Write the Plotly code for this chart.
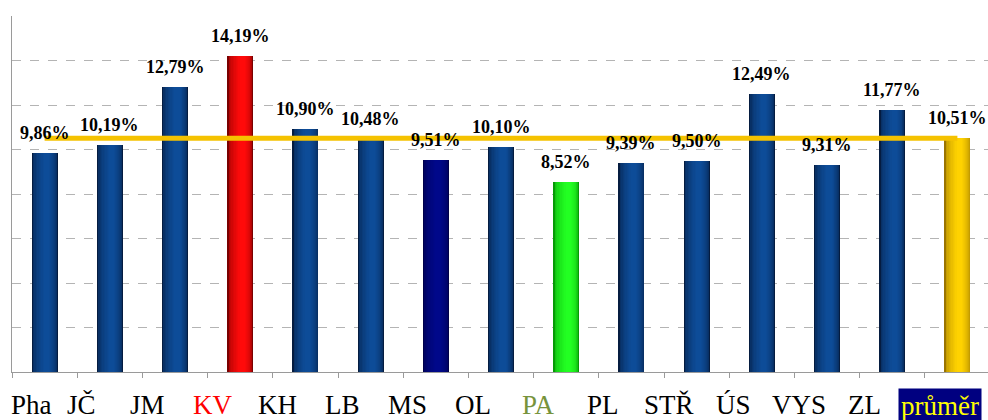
import plotly.graph_objects as go

# Regional shares (%) and the national average
regions = ["Pha", "JČ", "JM", "KV", "KH", "LB", "MS", "OL", "PA", "PL",
           "STŘ", "ÚS", "VYS", "ZL", "průměr"]
share = [9.86, 10.19, 12.79, 14.19, 10.90, 10.48, 9.51, 10.10, 8.52, 9.39,
         9.50, 12.49, 9.31, 11.77, 10.51]
average = 10.51

# Bar colour family per region
bar_style = ["blue", "blue", "blue", "red", "blue", "blue", "navy", "blue",
             "green", "blue", "blue", "blue", "blue", "blue", "gold"]
label_style = ["black", "black", "black", "red", "black", "black", "black",
               "black", "olive", "black", "black", "black", "black", "black",
               "avg"]

# (edge colour, highlight colour) for the cylinder-like shading
palette = {
    "blue": ("#051c40", "#0d4c98"),
    "red": ("#7a0000", "#ff0a0a"),
    "navy": ("#00004a", "#00088a"),
    "green": ("#059a05", "#22ff22"),
    "gold": ("#9a7400", "#ffd200"),
}
label_colors = {"black": "#000000", "red": "#ff0000", "olive": "#77933c",
                "avg": "#ffff00"}

SERIF = "Times New Roman"


def hex_to_rgb(h):
    h = h.lstrip("#")
    return tuple(int(h[i:i + 2], 16) for i in (0, 2, 4))


def mix(c1, c2, t):
    a, b = hex_to_rgb(c1), hex_to_rgb(c2)
    return "#{:02x}{:02x}{:02x}".format(*[round(a[i] + (b[i] - a[i]) * t) for i in range(3)])


BAR_W = 0.4
HILITE = 0.6      # highlight position across the bar (0 = left edge)
LAYERS = 10

fig = go.Figure()
x = list(range(len(regions)))

# nested bars, each narrower and lighter, to give a horizontal gradient
for k in range(LAYERS):
    t = k / (LAYERS - 1)
    s = t * 0.8
    left = -BAR_W / 2 + s * HILITE * BAR_W
    right = BAR_W / 2 - s * (1 - HILITE) * BAR_W
    colors = [mix(palette[st][0], palette[st][1], t ** 0.4) for st in bar_style]
    fig.add_trace(go.Bar(
        x=x, y=share, width=right - left, offset=left,
        marker=dict(color=colors, line=dict(width=0)),
        hoverinfo="skip", showlegend=False,
    ))

# average line
fig.add_trace(go.Scatter(
    x=[0, len(regions) - 1], y=[average, average], mode="lines",
    line=dict(color="#f5c200", width=5), hoverinfo="skip", showlegend=False,
))

# value labels above the bars
for i, v in enumerate(share):
    fig.add_annotation(
        x=i, y=v, xref="x", yref="y", yanchor="bottom", yshift=8,
        text="<b>" + f"{v:.2f}".replace(".", ",") + "%</b>", showarrow=False,
        font=dict(family=SERIF, size=18, color="#000000"),
    )

# region names under the axis
for i, (name, st) in enumerate(zip(regions, label_style)):
    ann = dict(
        x=i, y=0, xref="x", yref="paper", yanchor="top", yshift=-16,
        xshift=-28, text=name, showarrow=False,
        font=dict(family=SERIF, size=27, color=label_colors[st]),
    )
    if i == 0:
        # keep the first label inside the figure, flush with the axis
        ann.update(x=-0.5, xanchor="left", xshift=-3)
    if st == "avg":
        ann.update(bgcolor="#000080", xshift=-17, borderpad=2)
    fig.add_annotation(**ann)

fig.update_layout(
    width=988, height=420,
    margin=dict(l=12, r=0, t=16, b=48),
    paper_bgcolor="#ffffff", plot_bgcolor="#ffffff",
    barmode="overlay", bargap=0,
    xaxis=dict(
        range=[-0.5, -0.5 + 976 / 65.2], showgrid=False, zeroline=False,
        tickvals=[i - 0.5 for i in range(len(regions) + 1)],
        ticks="outside", ticklen=5, tickcolor="#9a9a9a",
        showticklabels=False, showline=True, linecolor="#9a9a9a",
    ),
    yaxis=dict(
        range=[0, 16], dtick=2, showgrid=True, gridcolor="#b4b4b4",
        griddash="dash", gridwidth=1, zeroline=False,
        showticklabels=False, ticks="", showline=True, linecolor="#9a9a9a",
    ),
)

fig.write_html("out.html")
